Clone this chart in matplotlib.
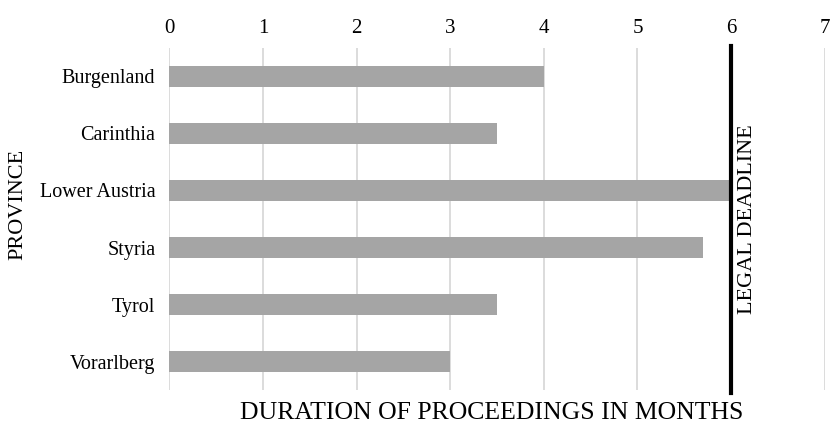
import matplotlib
matplotlib.use('Agg')
import matplotlib.pyplot as plt

# durations of proceedings per province (months)
provinces = ['Burgenland', 'Carinthia', 'Lower Austria', 'Styria', 'Tyrol', 'Vorarlberg']
durations = [4, 3.5, 6, 5.7, 3.5, 3]
deadline = 6
ticks = [0, 1, 2, 3, 4, 5, 6, 7]

plt.rcParams['font.family'] = ['Liberation Serif', 'DejaVu Serif']

fig = plt.figure(figsize=(8.3, 4.24), dpi=100)
ax = fig.add_axes([0.204, 0.080, 0.7896, 0.807])

ypos = list(range(len(provinces)))
ax.barh(ypos, durations, height=0.37, color='#a5a5a5', zorder=2)
ax.set_yticks(ypos)
ax.set_yticklabels(provinces, fontsize=14.5)
ax.set_ylim(len(provinces) - 0.5, -0.5)

ax.set_xlim(0, 7)
ax.set_xticks(ticks)
ax.set_xticklabels([str(t) for t in ticks], fontsize=15)
ax.xaxis.tick_top()
ax.tick_params(axis='both', length=0)
ax.tick_params(axis='x', pad=7)
ax.tick_params(axis='y', pad=10)
ax.grid(axis='x', color='#d9d9d9', linewidth=1.3, zorder=0)
for s in ax.spines.values():
    s.set_visible(False)

# legal deadline marker
ax.plot([deadline, deadline], [-0.53, len(provinces) - 0.45], color='black',
        linewidth=3, zorder=3, clip_on=False)
ax.text(deadline + 0.07, (len(provinces) - 1) / 2, 'LEGAL DEADLINE', rotation=90,
        ha='left', va='center', fontsize=16)

fig.text(0.022, 0.517, 'PROVINCE', rotation=90, ha='center', va='center', fontsize=16)
fig.text(0.592, 0.026, 'DURATION OF PROCEEDINGS IN MONTHS', ha='center', va='center', fontsize=18.5)

fig.savefig('out.png', dpi=100)
